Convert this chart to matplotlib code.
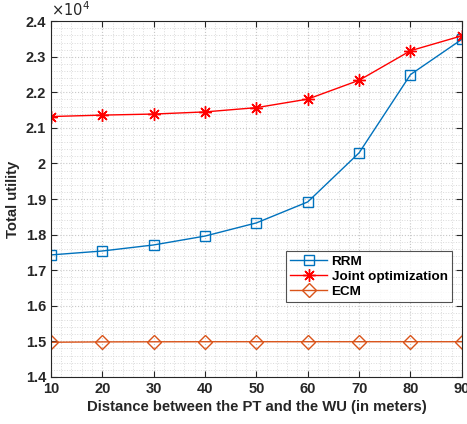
import matplotlib.pyplot as plt
from matplotlib.ticker import FuncFormatter, MultipleLocator

plt.rcParams['font.family'] = ['Liberation Sans', 'DejaVu Sans']

distance = [10, 20, 30, 40, 50, 60, 70, 80, 90]
rrm = [17430, 17540, 17710, 17960, 18330, 18920, 20300, 22500, 23490]
joint = [21320, 21360, 21390, 21450, 21570, 21810, 22340, 23170, 23590]
ecm = [14975, 14985, 14988, 14990, 14990, 14990, 14990, 14990, 14990]

fig = plt.figure(figsize=(4.67, 4.24), dpi=100)
ax = fig.add_axes([0.109, 0.111, 0.880, 0.839])

ax.plot(distance, rrm, color='#0072BD', marker='s', markersize=7,
        markerfacecolor='none', linewidth=1.0, label='RRM')
ax.plot(distance, joint, color='#FF0000', marker=(8, 2, 0), markersize=9,
        markeredgewidth=1.0, linewidth=1.0, label='Joint optimization')
ax.plot(distance, ecm, color='#D95319', marker='D', markersize=7,
        markerfacecolor='none', linewidth=1.0, label='ECM')

ax.set_xlim(10, 90)
ax.set_ylim(14000, 24000)
ax.xaxis.set_major_locator(MultipleLocator(10))
ax.xaxis.set_minor_locator(MultipleLocator(2))
ax.yaxis.set_major_locator(MultipleLocator(1000))
ax.yaxis.set_minor_locator(MultipleLocator(200))
ax.yaxis.set_major_formatter(FuncFormatter(lambda v, p: '%g' % round(v / 1e4, 2)))

ax.grid(True, which='major', color='#c8c8c8', linestyle=':', linewidth=0.8)
ax.grid(True, which='minor', color='#dadada', linestyle=':', linewidth=0.7)
ax.set_axisbelow(True)

ax.tick_params(which='both', direction='in', top=True, right=True)
ax.tick_params(which='major', length=4, labelsize=10.5, colors='#262626')
ax.tick_params(which='minor', length=0)
for lab in ax.get_xticklabels() + ax.get_yticklabels():
    lab.set_fontweight('bold')
for s in ax.spines.values():
    s.set_color('#262626')
    s.set_linewidth(0.8)

ax.set_xlabel('Distance between the PT and the WU (in meters)',
              fontsize=10.7, fontweight='bold', color='#262626', labelpad=3)
ax.set_ylabel('Total utility', fontsize=10.7, fontweight='bold',
              color='#262626', labelpad=4)
ax.text(0.0, 1.005, r'$\times10^4$', transform=ax.transAxes, fontsize=10.5,
        color='#262626', ha='left', va='bottom')

leg = ax.legend(loc='upper left', bbox_to_anchor=(0.555, 0.372),
                prop={'weight': 'bold', 'size': 9.7},
                frameon=True, fancybox=False, edgecolor='#262626',
                borderpad=0.3, handlelength=2.8, labelspacing=0.2,
                handletextpad=0.3)
leg.get_frame().set_linewidth(0.8)

fig.savefig('out.png', dpi=100)
